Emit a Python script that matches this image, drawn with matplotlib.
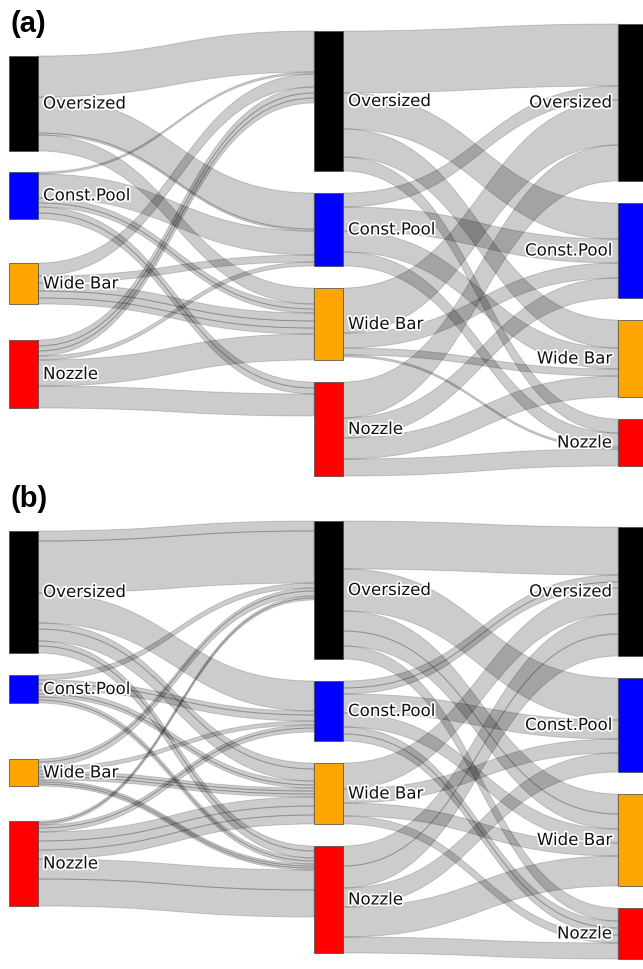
import matplotlib
matplotlib.use("Agg")
import matplotlib.pyplot as plt
from matplotlib.path import Path
from matplotlib.patches import PathPatch, Rectangle
import matplotlib.patheffects as pe

# ---------------- data ----------------
categories = ["Oversized", "Const.Pool", "Wide Bar", "Nozzle"]
node_colors = ["#000000", "#0000ff", "#ffa500", "#ff0000"]

# flows[source][target] = list of parallel link values (stage 1: col1->col2, stage 2: col2->col3)
a_stage1 = [
    [[41], [36, 2], [16], []],
    [[2], [24], [5, 4], [6, 6]],
    [[13], [7], [8, 7, 6], []],
    [[6, 5, 5], [4], [26], [22]],
]
a_stage2 = [
    [[62], [36], [28], [14]],
    [[14], [24], [21], [14]],
    [[45], [15], [7], [2]],
    [[36], [20], [21], [17]],
]
b_stage1 = [
    [[10, 52], [30], [6, 12], [5, 7]],
    [[5], [4, 6], [4, 3], [3, 3]],
    [[3, 5], [4], [3, 3, 3], [2, 2, 2]],
    [[2, 2], [3, 4], [9, 9, 9], [20, 27]],
]
b_stage2 = [
    [[48], [42], [20, 15], [13]],
    [[7, 6], [19], [14], [7, 7]],
    [[26], [14], [13], [8]],
    [[20, 22], [19], [30], [16]],
]
panel_labels = ["(a)", "(b)"]

# ---------------- layout ----------------
W, H = 643, 970
SCALE = 1.0          # px per unit
NODE_W = 29
COL_X = [9, 314, 618]
LINK_FC = (0, 0, 0, 0.2)
LINK_EC = (0, 0, 0, 0.17)

panels = [
    dict(label=panel_labels[0], label_xy=(11, 24), flows=[a_stage1, a_stage2],
         tops=[57, 32, 25], gaps=[[21, 44, 36], [22, 22, 22], [22, 22, 22]]),
    dict(label=panel_labels[1], label_xy=(11, 499), flows=[b_stage1, b_stage2],
         tops=[532, 522, 528], gaps=[[22, 56, 35], [22, 22, 22], [22, 22, 22]]),
]

fig = plt.figure(figsize=(W / 100, H / 100), dpi=100)
ax = fig.add_axes([0, 0, 1, 1])
ax.set_xlim(0, W)
ax.set_ylim(H, 0)
ax.axis("off")

n = len(categories)


def band(x0, x1, ys, yt, w):
    xm = (x0 + x1) / 2
    verts = [(x0, ys), (xm, ys), (xm, yt), (x1, yt),
             (x1, yt + w), (xm, yt + w), (xm, ys + w), (x0, ys + w), (x0, ys)]
    codes = [Path.MOVETO, Path.CURVE4, Path.CURVE4, Path.CURVE4,
             Path.LINETO, Path.CURVE4, Path.CURVE4, Path.CURVE4, Path.CLOSEPOLY]
    return PathPatch(Path(verts, codes), fc=LINK_FC, ec=LINK_EC, lw=0.7, zorder=1)


for p in panels:
    flows = p["flows"]
    # node sizes per column
    sizes = []
    for c in range(3):
        s = []
        for i in range(n):
            inflow = sum(sum(flows[c - 1][k][i]) for k in range(n)) if c > 0 else 0
            outflow = sum(sum(flows[c][i][k]) for k in range(n)) if c < 2 else 0
            s.append(max(inflow, outflow) * SCALE)
        sizes.append(s)
    # node tops
    tops = []
    for c in range(3):
        y = p["tops"][c]
        t = []
        for i in range(n):
            t.append(y)
            y += sizes[c][i] + (p["gaps"][c][i] if i < n - 1 else 0)
        tops.append(t)

    # links
    for s in range(2):
        fl = flows[s]
        out_off = list(tops[s])
        in_off = list(tops[s + 1])
        tgt_pos = {}
        for j in range(n):
            for i in range(n):
                for k, v in enumerate(fl[i][j]):
                    tgt_pos[(i, j, k)] = in_off[j]
                    in_off[j] += v * SCALE
        x0 = COL_X[s] + NODE_W
        x1 = COL_X[s + 1]
        for i in range(n):
            for j in range(n):
                for k, v in enumerate(fl[i][j]):
                    w = v * SCALE
                    ax.add_patch(band(x0, x1, out_off[i], tgt_pos[(i, j, k)], w))
                    out_off[i] += w

    # nodes and labels
    for c in range(3):
        for i in range(n):
            y0 = tops[c][i]
            h = sizes[c][i]
            ax.add_patch(Rectangle((COL_X[c], y0), NODE_W, h, fc=node_colors[i],
                                   ec="#444444", lw=0.5, zorder=3))
            if c < 2:
                tx, ha = COL_X[c] + NODE_W + 5, "left"
            else:
                tx, ha = COL_X[c] - 6, "right"
            ax.text(tx, y0 + h / 2, categories[i], ha=ha, va="center",
                    fontsize=12, family="DejaVu Sans", color="#111111", zorder=5,
                    path_effects=[pe.withStroke(linewidth=2.5, foreground="white")])

    ax.text(p["label_xy"][0], p["label_xy"][1], p["label"], ha="left", va="center",
            fontsize=21, fontweight="bold", family="Liberation Sans", color="black", zorder=6)

fig.savefig("out.png", dpi=100)
